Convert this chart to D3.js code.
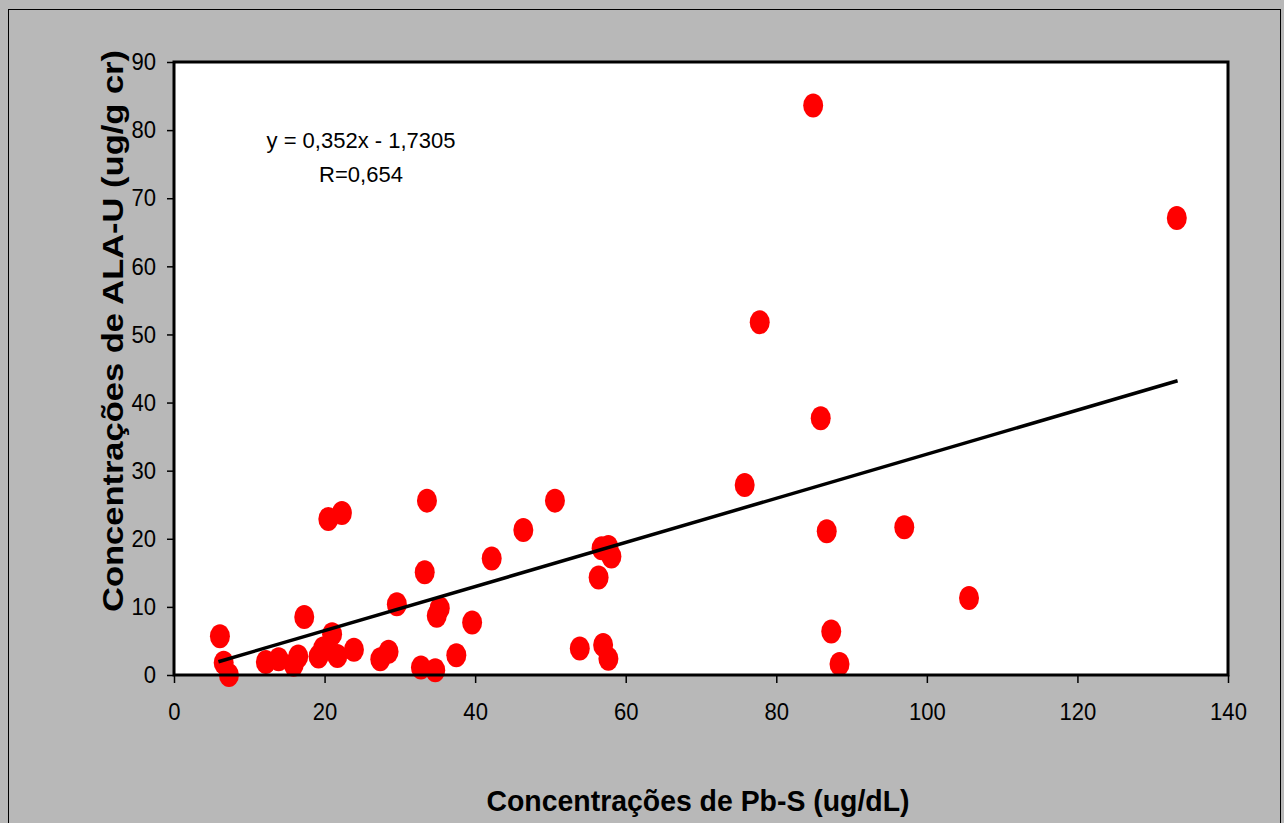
<!DOCTYPE html>
<html>
<head>
<meta charset="utf-8">
<script src="https://cdn.jsdelivr.net/npm/d3@7"></script>
<style>
  body { margin: 0; background: #b8b8b8; }
  text { font-family: "Liberation Sans", Arial, sans-serif; }
</style>
</head>
<body>
<script>
// data: Pb-S (x) vs ALA-U (y)
var PBS = [6.1, 6.6, 7.3, 12.2, 13.9, 15.9, 16.5, 17.3, 19.2, 19.8, 21.0, 20.5, 22.3, 21.7, 23.9,
    27.4, 28.5, 29.6, 33.3, 33.6, 32.8, 34.7, 34.9, 35.3, 37.5, 39.6, 50.6, 46.4, 42.2,
    56.8, 57.7, 58.1, 56.4, 53.9, 57.0, 57.7, 77.8, 85.9, 75.8, 86.7, 97.0, 105.6, 87.3, 88.4,
    84.9, 133.2];
var ALAU = [5.7, 1.8, 0, 1.9, 2.3, 1.5, 2.7, 8.5, 2.7, 3.9, 6.0, 22.9, 23.8, 2.8, 3.7,
    2.3, 3.4, 10.4, 15.1, 25.6, 1.1, 0.7, 8.7, 9.8, 2.9, 7.7, 25.6, 21.3, 17.1,
    18.6, 18.8, 17.4, 14.3, 3.9, 4.4, 2.4, 51.8, 37.7, 27.9, 21.1, 21.7, 11.3, 6.4, 1.6,
    83.6, 67.1];
// trend line as drawn (two ends)
var TREND_X = [5.9, 133.3];
var TREND_Y = [1.95, 43.2];
var X_TICKS = [0, 20, 40, 60, 80, 100, 120, 140];
var Y_TICKS = [0, 10, 20, 30, 40, 50, 60, 70, 80, 90];

var W = 1284, H = 823;
var MARGINS = {top: 62, bottom: 148, left: 174, right: 56};

var svg = d3.select("body").append("svg")
    .attr("width", W)
    .attr("height", H);

// outer frame
svg.append("rect")
    .attr("x", 8.5).attr("y", 9.5)
    .attr("width", W - 12).attr("height", H)
    .attr("fill", "#b8b8b8")
    .attr("stroke", "#000").attr("stroke-width", 1);

var xScale = d3.scaleLinear().domain([0, 140]).range([MARGINS.left, W - MARGINS.right]);
var yScale = d3.scaleLinear().domain([0, 90]).range([H - MARGINS.bottom, MARGINS.top]);

// plot area
svg.append("rect")
    .attr("x", xScale(0)).attr("y", yScale(90))
    .attr("width", xScale(140) - xScale(0))
    .attr("height", yScale(0) - yScale(90))
    .attr("fill", "#fff");

var xAxis = d3.axisBottom(xScale).tickValues(X_TICKS).tickSize(8).tickPadding(20);
var yAxis = d3.axisLeft(yScale).tickValues(Y_TICKS).tickSize(7).tickPadding(11);

var gx = svg.append("g").attr("transform", "translate(0," + yScale(0) + ")").call(xAxis);
var gy = svg.append("g").attr("transform", "translate(" + xScale(0) + ",0)").call(yAxis);
[gx, gy].forEach(function (g) {
    g.select(".domain").remove();
    g.selectAll(".tick line").attr("stroke", "#000").attr("stroke-width", 1.5);
    g.selectAll(".tick text")
        .attr("fill", "#000")
        .style("font-size", "24px")
        .style("font-family", "'Liberation Sans', Arial, sans-serif");
});
// narrow tick digits like the original
gx.selectAll(".tick text").attr("transform", "scale(0.92,1)");
gy.selectAll(".tick text")
    .attr("x", -18 / 0.92)
    .attr("transform", "scale(0.92,1)");

// points
svg.append("g").selectAll("ellipse")
    .data(PBS)
    .enter().append("ellipse")
    .attr("cx", function (d) { return xScale(d); })
    .attr("cy", function (d, i) { return yScale(ALAU[i]); })
    .attr("rx", 10).attr("ry", 12)
    .attr("fill", "#ff0000");

// trend line
var line = d3.line()
    .x(function (d) { return xScale(d); })
    .y(function (d, i) { return yScale(TREND_Y[i]); });
svg.append("path")
    .datum(TREND_X)
    .attr("d", line)
    .attr("fill", "none")
    .attr("stroke", "#000")
    .attr("stroke-width", 3.5);

// plot border
svg.append("rect")
    .attr("x", xScale(0)).attr("y", yScale(90))
    .attr("width", xScale(140) - xScale(0))
    .attr("height", yScale(0) - yScale(90))
    .attr("fill", "none")
    .attr("stroke", "#000").attr("stroke-width", 3);

// equation
svg.append("text")
    .attr("x", 361).attr("y", 148)
    .attr("text-anchor", "middle")
    .style("font-size", "22px")
    .text("y = 0,352x - 1,7305");
svg.append("text")
    .attr("x", 361).attr("y", 182)
    .attr("text-anchor", "middle")
    .style("font-size", "22px")
    .text("R=0,654");

// axis titles
svg.append("text")
    .attr("x", 698).attr("y", 811)
    .attr("text-anchor", "middle")
    .attr("textLength", 423).attr("lengthAdjust", "spacingAndGlyphs")
    .style("font-size", "30px").style("font-weight", "bold")
    .text("Concentrações de Pb-S (ug/dL)");
svg.append("text")
    .attr("transform", "translate(123,331) rotate(-90)")
    .attr("text-anchor", "middle")
    .attr("textLength", 562).attr("lengthAdjust", "spacingAndGlyphs")
    .style("font-size", "30px").style("font-weight", "bold")
    .text("Concentrações de ALA-U (ug/g cr)");
</script>
</body>
</html>
